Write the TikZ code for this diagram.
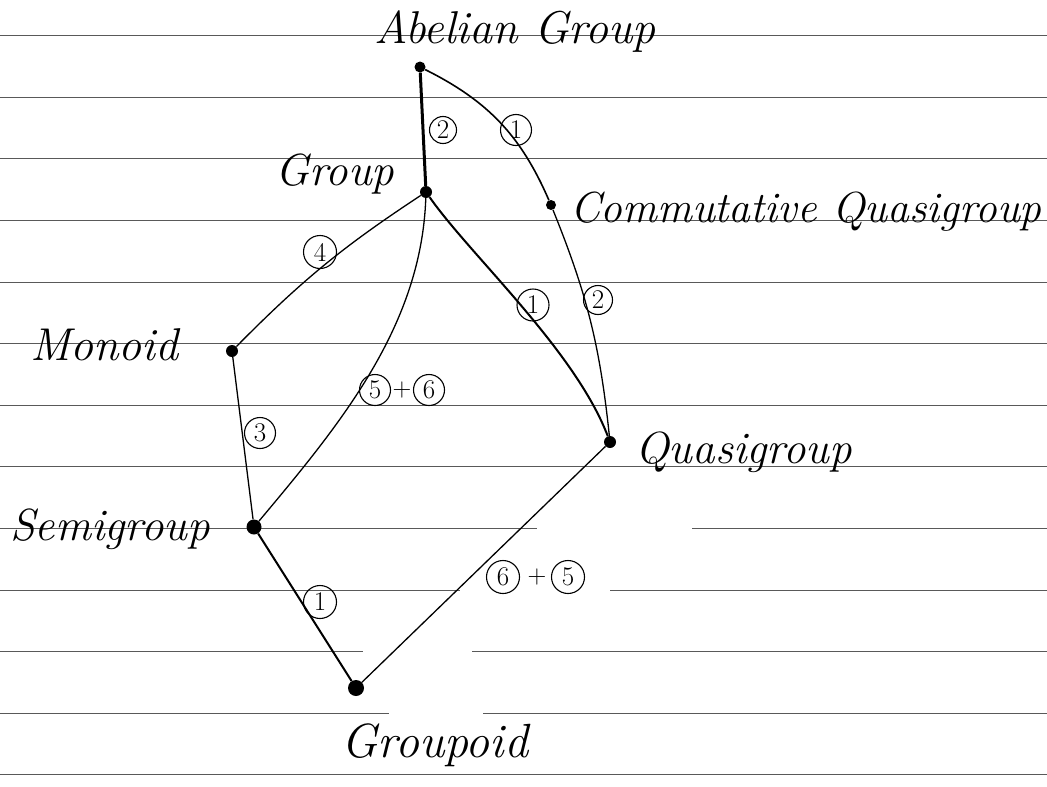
\documentclass[tikz,border=0pt]{standalone}
\usepackage{fontspec}
\begin{document}
\begin{tikzpicture}[x=1pt,y=-1pt,
  rule/.style={black!65, line width=0.9pt},
  vtx/.style={circle, fill=black, inner sep=0pt, minimum size=#1},
  edge/.style={line width=1.3pt, black},
  lbl/.style={font=\fontsize{#1}{#1}\selectfont\itshape, inner sep=0pt, anchor=base west},
  lbl/.default=45,
  num/.style={circle, draw, line width=1.1pt, inner sep=0pt, minimum size=#1, font=\fontsize{27}{27}\selectfont},
  num/.default=30pt,
  plus/.style={inner sep=0pt, font=\fontsize{26}{26}\selectfont}]
\useasboundingbox (0,0) rectangle (1047,787);
\fill[white] (0,0) rectangle (1047,787);
% ruled paper
\foreach \y in {35,97,158,220,282,343,405,466} \draw[rule] (0,\y) -- (1047,\y);
\draw[rule] (0,528) -- (537,528) (692,528) -- (1047,528);
\draw[rule] (0,590) -- (460,590) (610,590) -- (1047,590);
\draw[rule] (0,651) -- (363,651) (472,651) -- (1047,651);
\draw[rule] (0,713) -- (389,713) (483,713) -- (1047,713);
\draw[rule] (0,774) -- (1047,774);
% vertices
\node[vtx=11pt] (ab) at (420,67) {};
\node[vtx=12pt] (gr) at (426,192) {};
\node[vtx=10pt] (cq) at (551,205) {};
\node[vtx=12pt] (mo) at (232,351) {};
\node[vtx=12pt] (qg) at (610,442) {};
\node[vtx=15pt] (sg) at (254,527) {};
\node[vtx=16pt] (gd) at (356,688) {};
% edges
\draw[edge, line width=3pt] (ab) -- (gr);
\draw[edge, line width=1.6pt] (ab) to[bend left=20] (cq);
\draw[edge] (cq) to[bend left=8] (qg);
\draw[edge, line width=2pt] (gr) .. controls (470,255) and (575,350) .. (qg);
\draw[edge] (gr) to[bend right=6] (mo);
\draw[edge] (gr) to[out=-92,in=50,looseness=0.9] (sg);
\draw[edge] (mo) -- (sg);
\draw[edge, line width=2pt] (sg) -- (gd);
\draw[edge] (qg) -- (gd);
% circled labels
\node[num=27pt] (l1) at (443,130) {2};
\node[num=31pt] (l2) at (516,130) {1};
\node[num=29pt] (l3) at (598,300) {2};
\node[num=32pt] (l4) at (533,305) {1};
\node[num=33pt] (l5) at (320,252) {4};
\node[num=31pt] (l6) at (375,390) {5};
\node[plus]     (p1) at (402,390) {+};
\node[num=31pt] (l7) at (429,390) {6};
\node[num=31pt] (l8) at (260,433) {3};
\node[num=33pt] (l9) at (320,602) {1};
\node[num=33pt] (l10) at (503,577) {6};
\node[plus]     (p2) at (537,577) {+};
\node[num=33pt] (l11) at (568,577) {5};
% texts
\node[lbl=46] (tab) at (374,43) {Abelian Group};
\node[lbl=45] (tgr) at (275,185) {Group};
\node[lbl=43.5] (tcq) at (570,222) {Commutative Quasigroup};
\node[lbl=46] (tmo) at (30,360) {Monoid};
\node[lbl=45] (tqg) at (635,463) {Quasigroup};
\node[lbl=45] (tsg) at (10,540) {Semigroup};
\node[lbl=48] (tgd) at (341,757) {Groupoid};
\end{tikzpicture}
\end{document}
